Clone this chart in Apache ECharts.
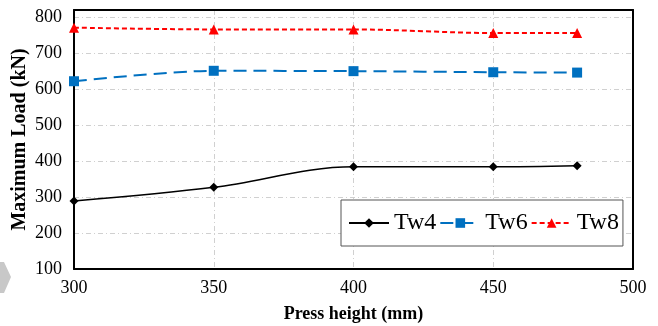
<!DOCTYPE html>
<html><head><meta charset="utf-8">
<script src="https://cdn.jsdelivr.net/npm/echarts@6/dist/echarts.min.js"></script>
<style>html,body{margin:0;padding:0;background:#fff}#c{width:658px;height:326px}</style>
</head><body><div id="c"></div>
<script>
const pressHeight = [300, 350, 400, 450, 480];
const tw4 = [289, 327, 384, 384, 387];
const tw6 = [622, 651, 650, 647, 646];
const tw8 = [771, 766, 766, 756, 756];
const seriesNames = ['Tw4', 'Tw6', 'Tw8'];

const pair = (xs, ys) => xs.map((x, i) => [x, ys[i]]);
const serif = '"Liberation Serif", "DejaVu Serif", serif';
const gridLine = {show: true, lineStyle: {color: '#d0d0d0', type: [5, 3, 1, 3], width: 1}};
const frameAxis = {
  axisLine: {show: true, onZero: false, lineStyle: {color: '#000', width: 2}},
  axisTick: {show: false}, axisLabel: {show: false}, splitLine: {show: false}
};

const chart = echarts.init(document.getElementById('c'));
chart.setOption({
  animation: false,
  backgroundColor: '#fff',
  grid: {left: 74, right: 25, top: 10, bottom: 57, show: false, containLabel: false, outerBoundsMode: 'none'},
  xAxis: [{
    type: 'value', min: 300, max: 500, interval: 50,
    name: 'Press height (mm)', nameLocation: 'middle', nameGap: 36, nameMoveOverlap: false,
    nameTextStyle: {fontFamily: serif, fontWeight: 'bold', fontSize: 18, color: '#000'},
    axisLine: {show: true, onZero: false, lineStyle: {color: '#000', width: 2}},
    axisTick: {show: false},
    axisLabel: {fontFamily: serif, fontSize: 18, color: '#000', margin: 10},
    splitLine: gridLine
  }, Object.assign({type: 'value', position: 'top', min: 300, max: 500}, frameAxis)],
  yAxis: [{
    type: 'value', min: 100, max: 820, interval: 100,
    name: 'Maximum Load (kN)', nameLocation: 'middle', nameGap: 44, nameMoveOverlap: false,
    nameTextStyle: {fontFamily: serif, fontWeight: 'bold', fontSize: 20, color: '#000'},
    axisLine: {show: true, onZero: false, lineStyle: {color: '#000', width: 2}},
    axisTick: {show: false},
    axisLabel: {fontFamily: serif, fontSize: 18, color: '#000', margin: 12, showMaxLabel: false},
    splitLine: gridLine
  }, Object.assign({type: 'value', position: 'right', min: 100, max: 820}, frameAxis)],
  legend: {
    left: 341, top: 200,
    padding: [11, 4, 11, 7],
    backgroundColor: '#fff', borderColor: '#555', borderWidth: 1,
    itemWidth: 40, itemHeight: 12, itemGap: 3,
    textStyle: {fontFamily: serif, fontSize: 24, color: '#000'},
    data: seriesNames
  },
  series: [
    {name: seriesNames[0], type: 'line', smooth: 0.35, data: pair(pressHeight, tw4),
     symbol: 'diamond', symbolSize: 9, itemStyle: {color: '#000'},
     lineStyle: {color: '#000', width: 1.5}},
    {name: seriesNames[1], type: 'line', smooth: 0.3, data: pair(pressHeight, tw6),
     symbol: 'rect', symbolSize: 10, itemStyle: {color: '#0070c0'},
     lineStyle: {color: '#0070c0', width: 2, type: [13, 7]}},
    {name: seriesNames[2], type: 'line', smooth: 0.3, data: pair(pressHeight, tw8),
     symbol: 'triangle', symbolSize: 10, itemStyle: {color: '#ff0000'},
     lineStyle: {color: '#ff0000', width: 2, type: [5, 3]}}
  ],
  graphic: [{
    type: 'polygon', silent: true,
    shape: {points: [[0, 262], [4, 262], [11, 277], [4, 293], [0, 293]]},
    style: {fill: '#c8c8c8'}
  }]
});
</script></body></html>
